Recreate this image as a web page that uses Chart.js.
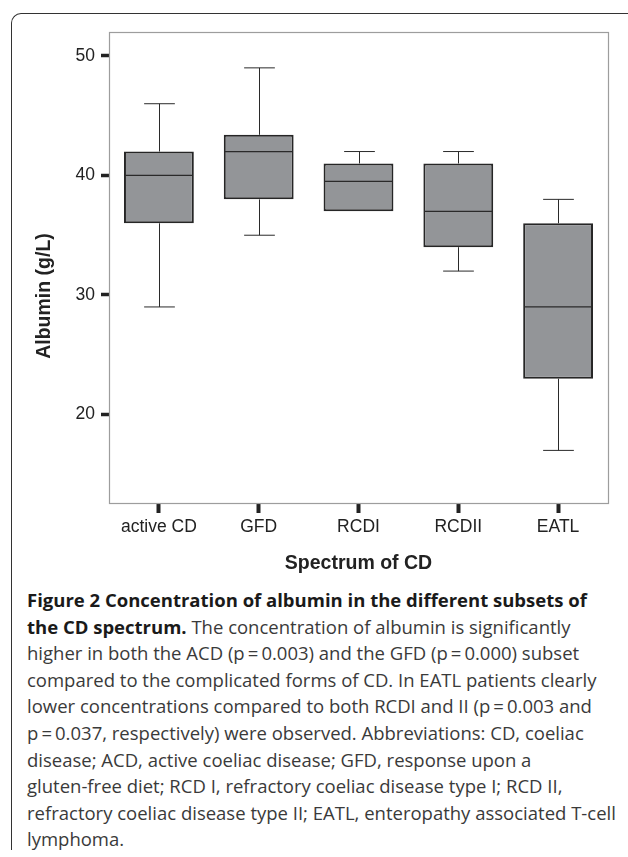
<!DOCTYPE html>
<html>
<head>
<meta charset="utf-8">
<script src="https://cdn.jsdelivr.net/npm/chart.js@4/dist/chart.umd.min.js"></script>
<style>
  body { margin: 0; background: #fff; }
  #wrap { position: relative; width: 628px; height: 857px; overflow: hidden; }
  #frame {
    position: absolute; left: 11px; top: 13px; width: 640px; height: 837px;
    border-top: 1.5px solid #333; border-left: 1.5px solid #333;
    border-top-left-radius: 10px; box-sizing: border-box;
  }
  #chart { position: absolute; left: 0; top: 0; }
  #caption {
    position: absolute; left: 27px; top: 587px;
    font-family: "Open Sans", sans-serif; font-size: 18.5px; line-height: 26.6px;
    color: #3a3a3a; white-space: nowrap;
  }
  #caption b { color: #1a1a1a; }
</style>
</head>
<body>
<div id="wrap">
  <div id="frame"></div>
  <canvas id="chart" width="628" height="585"></canvas>
  <div id="caption">
    <b>Figure 2 Concentration of albumin in the different subsets of</b><br>
    <b>the CD spectrum.</b> The concentration of albumin is significantly<br>
    higher in both the ACD (p&thinsp;=&thinsp;0.003) and the GFD (p&thinsp;=&thinsp;0.000) subset<br>
    compared to the complicated forms of CD. In EATL patients clearly<br>
    lower concentrations compared to both RCDI and II (p&thinsp;=&thinsp;0.003 and<br>
    p&thinsp;=&thinsp;0.037, respectively) were observed. Abbreviations: CD, coeliac<br>
    disease; ACD, active coeliac disease; GFD, response upon a<br>
    gluten-free diet; RCD I, refractory coeliac disease type I; RCD II,<br>
    refractory coeliac disease type II; EATL, enteropathy associated T-cell<br>
    lymphoma.
  </div>
</div>
<script>
// box plot values (g/L)
const categories = ["active CD", "GFD", "RCDI", "RCDII", "EATL"];
const whiskerLow = [29, 35, 37, 32, 17];
const q1 = [36, 38, 37, 34, 23];
const median = [40, 42, 39.5, 37, 29];
const q3 = [42, 43.4, 41, 41, 36];
const whiskerHigh = [46, 49, 42, 42, 38];
const yTicks = [20, 30, 40, 50];
const yMin = 12.6;
const yMax = 52;

const FONT = "'Liberation Sans', Arial, sans-serif";

// whiskers, caps and medians drawn on top of the floating bars
const boxPlot = {
  id: "boxPlot",
  afterDatasetsDraw(chart) {
    const { ctx, scales: { x, y } } = chart;
    const bars = chart.getDatasetMeta(0).data;
    ctx.save();
    bars.forEach((bar, i) => {
      const cx = Math.round(x.getPixelForValue(i)) + 0.5;
      const capHalf = bar.width * 0.22;
      const yHi = y.getPixelForValue(whiskerHigh[i]);
      const yLo = y.getPixelForValue(whiskerLow[i]);
      const yQ3 = y.getPixelForValue(q3[i]);
      const yQ1 = y.getPixelForValue(q1[i]);
      ctx.strokeStyle = "#2a2a2a";
      ctx.lineWidth = 1;
      ctx.beginPath();
      if (whiskerHigh[i] > q3[i]) {
        ctx.moveTo(cx, yQ3); ctx.lineTo(cx, yHi);
        ctx.moveTo(cx - capHalf, yHi); ctx.lineTo(cx + capHalf, yHi);
      }
      if (whiskerLow[i] < q1[i]) {
        ctx.moveTo(cx, yQ1); ctx.lineTo(cx, yLo);
        ctx.moveTo(cx - capHalf, yLo); ctx.lineTo(cx + capHalf, yLo);
      }
      ctx.stroke();

      const yMed = y.getPixelForValue(median[i]);
      ctx.lineWidth = 1.3;
      ctx.beginPath();
      ctx.moveTo(bar.x - bar.width / 2 + 1, yMed);
      ctx.lineTo(bar.x + bar.width / 2 - 1, yMed);
      ctx.stroke();
    });
    ctx.restore();
  },
  afterDraw(chart) {
    const { ctx, chartArea: a } = chart;
    ctx.save();
    // plot frame
    ctx.strokeStyle = "#9d9d9d";
    ctx.lineWidth = 1.2;
    ctx.strokeRect(a.left + 0.5, a.top + 0.5, a.right - a.left, a.bottom - a.top);
    // y axis title
    ctx.translate(45, (a.top + a.bottom) / 2 + 28.5);
    ctx.rotate(-Math.PI / 2);
    ctx.font = "bold 19.5px " + FONT;
    ctx.fillStyle = "#222";
    ctx.textAlign = "center";
    ctx.textBaseline = "middle";
    ctx.fillText("Albumin (g/L)", 0, 0);
    ctx.restore();
  }
};

new Chart(document.getElementById("chart"), {
  type: "bar",
  data: {
    labels: categories,
    datasets: [{
      data: q1.map((v, i) => [v, q3[i]]),
      backgroundColor: "#939598",
      borderColor: "#262626",
      borderWidth: 2,
      borderSkipped: false,
      categoryPercentage: 1,
      barPercentage: 0.7
    }]
  },
  options: {
    responsive: false,
    animation: false,
    devicePixelRatio: 1,
    layout: { padding: { top: 32, right: 20, left: 0, bottom: 0 } },
    plugins: { legend: { display: false }, tooltip: { enabled: false } },
    scales: {
      x: {
        offset: true,
        border: { display: false },
        grid: {
          drawOnChartArea: false, offset: false,
          tickLength: 10, tickWidth: 4, tickColor: "#222"
        },
        ticks: { font: { family: FONT, size: 17.5 }, color: "#222", padding: 4, maxRotation: 0 },
        title: {
          display: true, text: "Spectrum of CD", color: "#222",
          font: { family: FONT, size: 19.5, weight: "bold" },
          padding: { top: 0, bottom: 10 }
        },
        afterFit: s => { s.height = 82; }
      },
      y: {
        min: yMin,
        max: yMax,
        border: { display: false },
        grid: { drawOnChartArea: false, tickLength: 8, tickWidth: 3.5, tickColor: "#222" },
        ticks: { font: { family: FONT, size: 17.5 }, color: "#222", padding: 6 },
        afterBuildTicks: s => { s.ticks = yTicks.map(v => ({ value: v })); },
        afterFit: s => { s.width = 109; }
      }
    }
  },
  plugins: [boxPlot]
});
</script>
</body>
</html>
